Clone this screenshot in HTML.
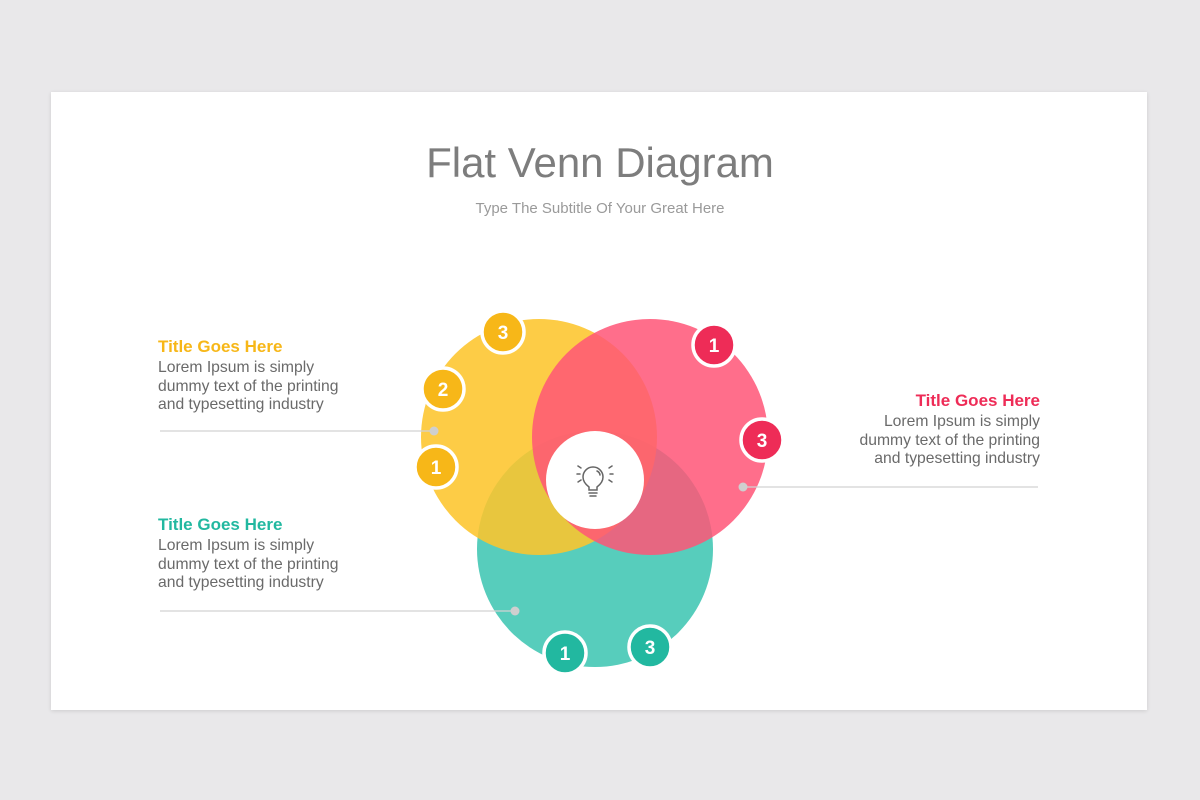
<!DOCTYPE html>
<html><head><meta charset="utf-8"><style>
html,body{margin:0;padding:0}
body{width:1200px;height:800px;background:#e9e8ea;position:relative;overflow:hidden;font-family:"Liberation Sans",sans-serif}
.slide{position:absolute;left:51px;top:92px;width:1096px;height:618px;background:#fff;box-shadow:0 1px 4px rgba(0,0,0,.12)}
.t{position:absolute;left:0;width:1200px;text-align:center;color:#7d7d7d}
.blk{position:absolute;width:200px}
.blk h3{margin:0;font-size:17px;font-weight:bold;line-height:20px}
.blk p{margin:2px 0 0;font-size:15.7px;line-height:18.5px;color:#6a6a6a}
</style></head><body>
<div class="slide"></div>
<div class="t" style="top:139px;font-size:42px;line-height:48px">Flat Venn Diagram</div>
<div class="t" style="top:200px;font-size:15px;line-height:18px;color:#9a9a9a">Type The Subtitle Of Your Great Here</div>

<div class="blk" style="left:158px;top:337px"><h3 style="color:#f7b718">Title Goes Here</h3><p>Lorem Ipsum is simply dummy text of the printing and typesetting industry</p></div>
<div class="blk" style="left:158px;top:515px"><h3 style="color:#22b8a0">Title Goes Here</h3><p>Lorem Ipsum is simply dummy text of the printing and typesetting industry</p></div>
<div class="blk" style="left:840px;top:391px;text-align:right"><h3 style="color:#ee2c57">Title Goes Here</h3><p>Lorem Ipsum is simply dummy text of the printing and typesetting industry</p></div>

<svg width="1200" height="800" style="position:absolute;left:0;top:0" font-family="Liberation Sans, sans-serif">
<circle cx="595" cy="549" r="118" fill="#57cdbc"/>
<circle cx="539" cy="437" r="118" fill="#fdc52c" opacity="0.88"/>
<circle cx="650" cy="437" r="118" fill="#ff5577" opacity="0.85"/>
<g stroke="#d2d2d2" stroke-width="1.2">
<line x1="160" y1="431" x2="434" y2="431"/>
<line x1="160" y1="611" x2="515" y2="611"/>
<line x1="743" y1="487" x2="1038" y2="487"/>
</g>
<g fill="#cfcfcf"><circle cx="434" cy="431" r="4.5"/><circle cx="515" cy="611" r="4.5"/><circle cx="743" cy="487" r="4.5"/></g>
<circle cx="595" cy="480" r="49" fill="#fff"/>
<g fill="none" stroke="#666" stroke-width="1.5" stroke-linecap="round">
<path d="M589 490 v-3 c-4-3-6-6-6-10 a10 10 0 0 1 20 0 c0 4-2 7-6 10 v3 z"/>
<line x1="589" y1="493" x2="597" y2="493"/><line x1="590" y1="496" x2="596" y2="496"/>
<path d="M597 471 a5 5 0 0 1 3 4"/>
<line x1="578" y1="466" x2="581" y2="468"/><line x1="577" y1="474" x2="580" y2="474"/><line x1="578" y1="482" x2="581" y2="480"/>
<line x1="612" y1="466" x2="609" y2="468"/><line x1="613" y1="474" x2="610" y2="474"/><line x1="612" y1="482" x2="609" y2="480"/>
</g>
<g stroke="#fff" stroke-width="3.5">
<g fill="#f7b718">
<circle cx="503" cy="332" r="21"/><circle cx="443" cy="389" r="21"/><circle cx="436" cy="467" r="21"/>
</g>
<g fill="#ee2c57"><circle cx="714" cy="345" r="21"/><circle cx="762" cy="440" r="21"/></g>
<g fill="#22b8a0"><circle cx="565" cy="653" r="21"/><circle cx="650" cy="647" r="21"/></g>
</g>
<g fill="#fff" font-size="19" font-weight="bold" text-anchor="middle">
<text x="503" y="339">3</text><text x="443" y="396">2</text><text x="436" y="474">1</text>
<text x="714" y="352">1</text><text x="762" y="447">3</text>
<text x="565" y="660">1</text><text x="650" y="654">3</text>
</g>
</svg>
</body></html>
